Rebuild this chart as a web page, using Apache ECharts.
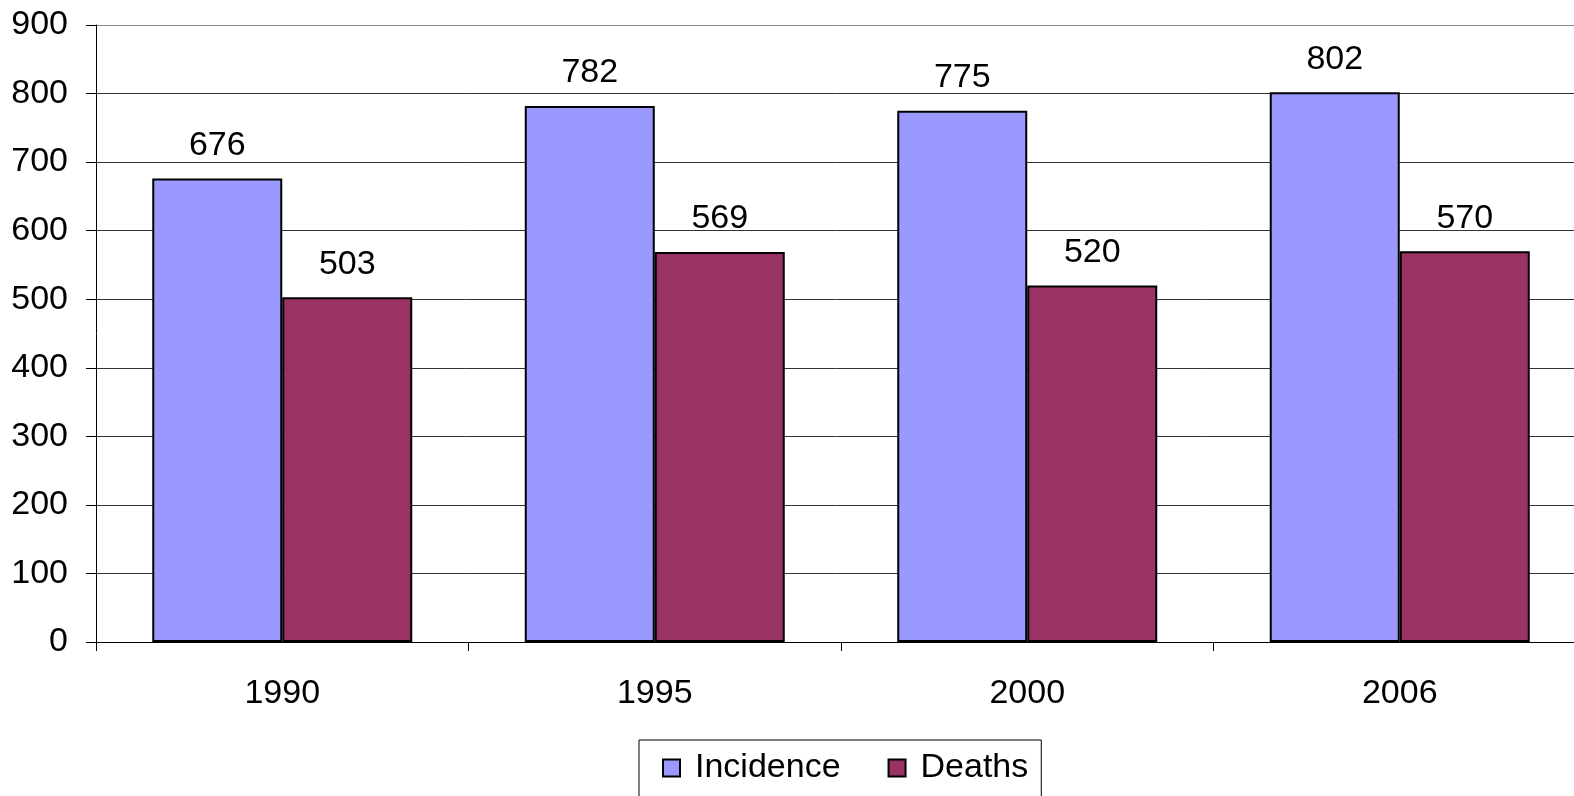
<!DOCTYPE html>
<html>
<head>
<meta charset="utf-8">
<script src="https://cdn.jsdelivr.net/npm/echarts@6/dist/echarts.min.js"></script>
<style>
html,body{margin:0;padding:0;background:#fff;}
#chart{width:1574px;height:796px;}
</style>
</head>
<body>
<div id="chart"></div>
<script>
const categories = ['1990', '1995', '2000', '2006'];
const incidence = [676, 782, 775, 802];
const deaths = [503, 569, 520, 570];
const seriesNames = ['Incidence', 'Deaths'];

const font = 'Liberation Sans, Arial, sans-serif';
const fs = 34;
const chart = echarts.init(document.getElementById('chart'));
chart.setOption({
  animation: false,
  backgroundColor: '#fff',
  grid: { left: 96, top: 25, width: 1490, height: 617, containLabel: false, outerBoundsMode: 'none' },
  legend: {
    data: seriesNames,
    left: 639,
    top: 740,
    orient: 'horizontal',
    borderColor: '#000',
    borderWidth: 1,
    padding: [11, 13, 30, 23],
    itemGap: 47,
    itemWidth: 17,
    itemHeight: 17,
    icon: 'rect',
    textStyle: { fontFamily: font, fontSize: fs, color: '#000', padding: [0, 0, 0, 10] }
  },
  xAxis: {
    type: 'category',
    data: categories,
    axisLine: { lineStyle: { color: '#000', width: 1 } },
    axisTick: { show: true, length: 9, lineStyle: { color: '#000' } },
    axisLabel: { fontFamily: font, fontSize: fs, color: '#000', margin: 35 }
  },
  yAxis: {
    type: 'value',
    min: 0,
    max: 900,
    interval: 100,
    axisLine: { show: true, lineStyle: { color: '#000', width: 1 } },
    axisTick: { show: true, length: 10, lineStyle: { color: '#000' } },
    axisLabel: { fontFamily: font, fontSize: fs, color: '#000', margin: 28 },
    splitLine: { show: true, lineStyle: { color: ['#000', '#333', '#333', '#333', '#333', '#333', '#333', '#333', '#333', '#888'], width: 1 } }
  },
  series: [
    {
      name: seriesNames[0],
      type: 'bar',
      data: incidence,
      barWidth: 130,
      barGap: '0%',
      itemStyle: { color: '#9999FF', borderColor: '#000', borderWidth: 2 },
      label: { show: true, position: 'top', distance: 16, fontFamily: font, fontSize: fs, color: '#000' }
    },
    {
      name: seriesNames[1],
      type: 'bar',
      data: deaths,
      barWidth: 130,
      barGap: '0%',
      itemStyle: { color: '#993366', borderColor: '#000', borderWidth: 2 },
      label: { show: true, position: 'top', distance: 16, fontFamily: font, fontSize: fs, color: '#000' }
    }
  ]
});
</script>
</body>
</html>
